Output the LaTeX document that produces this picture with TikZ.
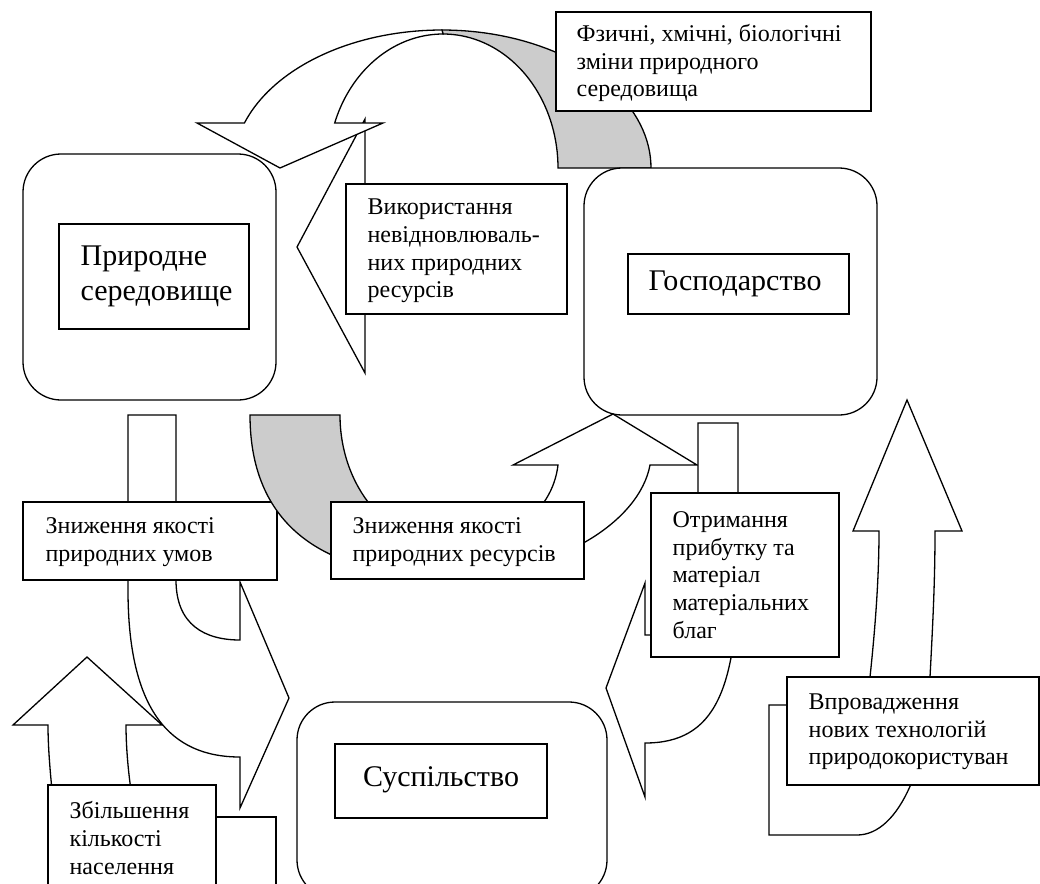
\documentclass[tikz,border=0pt]{standalone}
\usepackage{fontspec}
\setmainfont{Liberation Serif}
\begin{document}
\begin{tikzpicture}[x=1pt,y=-1pt,line width=1.3pt,line join=miter,
  shp/.style={draw=black,fill=white},
  gshp/.style={draw=black,fill=black!20},
  rbox/.style={draw=black,fill=white,rounded corners=38pt},
  tbox/.style={draw=black,fill=white},
  small/.style={inner sep=0pt,anchor=west,align=left,font=\fontsize{24}{27.6}\selectfont},
  large/.style={inner sep=0pt,anchor=west,align=left,font=\fontsize{30}{35}\selectfont}]
\useasboundingbox (0,0) rectangle (1040,883);
\clip (0,0) rectangle (1040,883);
\fill[white] (0,0) rectangle (1040,883);

% arrowhead of the "use of resources" arrow (behind)
\draw[shp] (297,247) -- (365,119) -- (365,373) -- cycle;

% top curved arrow: back (gray) part
\draw[gshp] plot[domain=90:0,samples=40] ({442+209*cos(\x)},{168-138*sin(\x)})
  -- plot[domain=0:90,samples=40] ({443+115*cos(\x)},{168-134*sin(\x)}) -- cycle;
% top curved arrow: front part with head
\draw[shp] plot[domain=161:90,samples=40] ({442+209*cos(\x)},{168-138*sin(\x)})
  -- plot[domain=90:160.4,samples=40] ({443+115*cos(\x)},{168-134*sin(\x)})
  -- (383,123) -- (280,168) -- (197,123) -- cycle;

% main rounded boxes
\draw[rbox] (23,154) rectangle (276,400);
\draw[rbox] (584,168) rectangle (877,415);
\draw[rbox] (297,702) rectangle (607,898);

% inner boxes
\node[tbox,minimum width=190pt,minimum height=105pt,inner sep=0pt] (pbox) at (154,276.5) {};
\node[large] (pryr) at (80,276.5) {Природне\\середовище};
\node[tbox,minimum width=221pt,minimum height=60pt,inner sep=0pt] (gbox) at (738.5,284) {};
\node[large] (gosp) at (648,284) {Господарство};
\node[tbox,minimum width=212pt,minimum height=74pt,inner sep=0pt] (sbox) at (441,781) {};
\node[large,anchor=center] (susp) at (441,780) {Суспільство};

% text box: physical changes
\node[tbox,minimum width=315pt,minimum height=99pt,inner sep=0pt] (fbox) at (713.5,61.5) {};
\node[small] (fiz) at (576,63) {Фзичні, хмічні, біологічні\\зміни природного\\середовища};

% text box: use of non-renewable resources
\node[tbox,minimum width=221pt,minimum height=130pt,inner sep=0pt] (vbox) at (456.5,249) {};
\node[small] (vyk) at (367,251) {Використання\\невідновлюваль-\\них природних\\ресурсів};

% left curved arrow (natural conditions)
\draw[shp] (128,415) -- (176,415) -- (176,580) .. controls (176,625) and (205,640) .. (240,640)
  -- (240,582) -- (289,698) -- (240,808) -- (240,757)
  .. controls (170,757) and (128,710) .. (128,590) -- cycle;
\node[tbox,minimum width=254pt,minimum height=78pt,inner sep=0pt] (zubox) at (150,541) {};
\node[small] (znum) at (45,542) {Зниження якості\\природних умов};

% centre curved arrow (resources)
\draw[gshp] (250,415) .. controls (250,530) and (330,578) .. (450,575) -- (449,545)
  .. controls (388.8,545) and (340,486.8) .. (340,415) -- cycle;
\draw[shp] (450,575) .. controls (560,575) and (640,520) .. (650,465) -- (697,465) -- (613,414)
  -- (513,465) -- (558,465) .. controls (552,515) and (505,545) .. (449,545) -- cycle;
\node[tbox,minimum width=253pt,minimum height=77pt,inner sep=0pt] (zrbox) at (457.5,540.5) {};
\node[small] (znres) at (352,542) {Зниження якості\\природних ресурсів};

% population arrow
\draw[shp] (200,817) rectangle (276,900);
\draw[shp] (52,790) .. controls (49,760) and (48,740) .. (48,725) -- (13,725) -- (87,657)
  -- (162,725) -- (126,725) .. controls (126,745) and (128,770) .. (131,790) -- cycle;
\draw[tbox] (48,785) rectangle (216,900);
\node[small] (zbil) at (69,838) {Збільшення\\кількості\\населення};

% profit arrow
\draw[shp] (698,423) -- (738,423) -- (738,560) .. controls (738,690) and (715,743) .. (645,743)
  -- (645,797) -- (606,688) -- (645,583) -- (645,635) -- (660,635)
  .. controls (690,635) and (698,610) .. (698,560) -- cycle;
\node[tbox,minimum width=188pt,minimum height=164pt,inner sep=0pt] (obox) at (745,575) {};
\node[small] (otr) at (672,575) {Отримання\\прибутку та\\матеріал\\матеріальних\\благ};

% new technologies arrow
\draw[shp] (769,705) -- (800,705) .. controls (850,705) and (870,695) .. (870,677)
  .. controls (875,630) and (879,580) .. (879,531) -- (853,531) -- (907,400) -- (962,531)
  -- (935,531) .. controls (935,580) and (933,620) .. (930,677)
  .. controls (930,760) and (900,835) .. (857,835) -- (769,835) -- cycle;
\node[tbox,minimum width=252pt,minimum height=108pt,inner sep=0pt] (tbx) at (913,731) {};
\node[small] (vpr) at (808,732) {Впровадження\\нових технологій\\природокористуван};
\end{tikzpicture}
\end{document}
